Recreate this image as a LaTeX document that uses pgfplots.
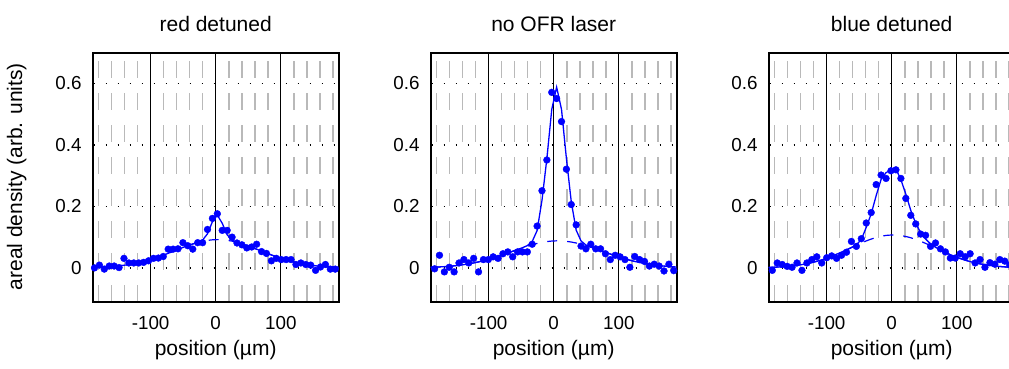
\documentclass[border=0pt]{standalone}
\usepackage{fontspec}
\setmainfont{Liberation Sans}
\usepackage{pgfplots}
\pgfplotsset{compat=1.18}
\definecolor{pblue}{RGB}{0,0,255}
\definecolor{gridgray}{RGB}{185,185,185}
\pgfplotsset{
 panel/.style={
  scale only axis, width=246bp, height=249bp,
  anchor=south west,
  xmin=-189, xmax=189, ymin=-0.11, ymax=0.7,
  xtick={-100,0,100}, xticklabels={-100,0,100},
  ytick={0,0.2,0.4,0.6}, yticklabels={0,0.2,0.4,0.6},
  minor xtick={-180,-160,-140,-120,-80,-60,-40,-20,20,40,60,80,120,140,160,180},
  xmajorgrids, xminorgrids, ymajorgrids,
  major x grid style={black, line width=1.3bp},
  minor x grid style={gridgray, line width=1.6bp, dash pattern=on 16.7bp off 15.3bp},
  major y grid style={black, line width=1.3bp, dash pattern=on 1.3bp off 10.7bp, dash phase=11bp},
  major tick length=0pt, minor tick length=0pt,
  axis line style={black, line width=1.6bp},
  tick label style={font=\fontsize{18.8bp}{22bp}\selectfont, inner sep=0pt},
  xticklabel style={anchor=north, yshift=-14.3bp},
  yticklabel style={anchor=east, xshift=-11bp},
  xlabel={position (µm)},
  xlabel style={font=\fontsize{21bp}{25bp}\selectfont, inner sep=0pt, at={(axis description cs:0.5,-0.194)}, anchor=center},
  ylabel style={font=\fontsize{21bp}{25bp}\selectfont, inner sep=0pt, at={(axis description cs:-0.309,0.502)}, anchor=center},
  title style={font=\fontsize{21bp}{25bp}\selectfont, inner sep=0pt, at={(axis description cs:0.5,1)}, anchor=base, yshift=15bp},
 },
 fitb/.style={pblue, line width=1.2bp, dash pattern=on 10bp off 10bp},
 fits/.style={pblue, line width=1.3bp},
 pts/.style={only marks, mark=*, mark size=3.4bp, mark options={fill=pblue, draw=pblue, solid}},
}
\begin{document}
\begin{tikzpicture}
\useasboundingbox (0,0) rectangle (1009bp,369bp);
\clip (0,0) rectangle (1009bp,369bp);
% ---------------- panel 1 ----------------
\begin{axis}[panel, at={(92.7bp,67.3bp)}, title={red detuned}, ylabel={areal density (arb. units)}]
\addplot[fitb] coordinates {(-189,0.0013) (-186.25,0.0015) (-178.7,0.0021) (-171.15,0.0028) (-163.6,0.0038) (-156.05,0.0050) (-148.5,0.0066) (-140.95,0.0085) (-133.4,0.0109) (-125.85,0.0137) (-118.3,0.0170) (-110.75,0.0208) (-103.2,0.0252) (-95.65,0.0301) (-88.1,0.0355) (-80.55,0.0413) (-73.0,0.0474) (-65.45,0.0537) (-57.9,0.0601) (-50.35,0.0664) (-42.8,0.0723) (-35.25,0.0778) (-27.7,0.0826) (-20.15,0.0865) (-12.6,0.0895) (-5.05,0.0913) (2.5,0.0920) (10.05,0.0915) (17.6,0.0898) (25.15,0.0870) (32.7,0.0831) (40.25,0.0784) (47.8,0.0731) (55.35,0.0672) (62.9,0.0609) (70.45,0.0546) (78.0,0.0482) (85.55,0.0421) (93.1,0.0362) (100.65,0.0308) (108.2,0.0258) (115.75,0.0214) (123.3,0.0175) (130.85,0.0141) (138.4,0.0112) (145.95,0.0088) (153.5,0.0068) (161.05,0.0052) (168.6,0.0039) (176.15,0.0029) (183.7,0.0022) (189,0.0016)};
\addplot[fits] coordinates {(-189,0.0013) (-186.25,0.0015) (-178.7,0.0021) (-171.15,0.0028) (-163.6,0.0038) (-156.05,0.0050) (-148.5,0.0066) (-140.95,0.0085) (-133.4,0.0109) (-125.85,0.0137) (-118.3,0.0170) (-110.75,0.0208) (-103.2,0.0252) (-95.65,0.0301) (-88.1,0.0355) (-80.55,0.0413) (-73.0,0.0474) (-65.45,0.0537) (-57.9,0.0601) (-50.35,0.0664) (-42.8,0.0723) (-35.25,0.0778) (-27.7,0.0829) (-20.15,0.0904) (-12.6,0.1110) (-5.05,0.1502) (2.5,0.1719) (10.05,0.1451) (17.6,0.1076) (25.15,0.0899) (32.7,0.0833) (40.25,0.0784) (47.8,0.0731) (55.35,0.0672) (62.9,0.0609) (70.45,0.0546) (78.0,0.0482) (85.55,0.0421) (93.1,0.0362) (100.65,0.0308) (108.2,0.0258) (115.75,0.0214) (123.3,0.0175) (130.85,0.0141) (138.4,0.0112) (145.95,0.0088) (153.5,0.0068) (161.05,0.0052) (168.6,0.0039) (176.15,0.0029) (183.7,0.0022) (189,0.0016)};
\addplot[pts] coordinates {(-186.25,0.000) (-178.7,0.009) (-171.15,-0.004) (-163.6,0.006) (-156.05,0.006) (-148.5,0.001) (-140.95,0.031) (-133.4,0.016) (-125.85,0.016) (-118.3,0.016) (-110.75,0.018) (-103.2,0.023) (-95.65,0.031) (-88.1,0.032) (-80.55,0.037) (-73.0,0.061) (-65.45,0.061) (-57.9,0.062) (-50.35,0.082) (-42.8,0.072) (-35.25,0.061) (-27.7,0.082) (-20.15,0.082) (-12.6,0.125) (-5.05,0.161) (2.5,0.176) (10.05,0.122) (17.6,0.122) (25.15,0.100) (32.7,0.081) (40.25,0.075) (47.8,0.065) (55.35,0.068) (62.9,0.077) (70.45,0.053) (78.0,0.047) (85.55,0.023) (93.1,0.031) (100.65,0.027) (108.2,0.027) (115.75,0.027) (123.3,0.011) (130.85,0.016) (138.4,0.011) (145.95,0.009) (153.5,-0.008) (161.05,0.003) (168.6,0.011) (176.15,-0.004) (183.7,-0.004)};
\end{axis}
% ---------------- panel 2 ----------------
\begin{axis}[panel, at={(430.7bp,67.3bp)}, title={no OFR laser}]
\addplot[fitb] coordinates {(-189,0.0018) (-183,0.0023) (-175.5,0.0031) (-168,0.0040) (-160.5,0.0052) (-153,0.0067) (-145.5,0.0085) (-138,0.0106) (-130.5,0.0131) (-123,0.0161) (-115.5,0.0195) (-108,0.0234) (-100.5,0.0277) (-93,0.0324) (-85.5,0.0375) (-78,0.0428) (-70.5,0.0484) (-63,0.0541) (-55.5,0.0598) (-48,0.0653) (-40.5,0.0706) (-33,0.0753) (-25.5,0.0795) (-18,0.0830) (-10.5,0.0856) (-3,0.0873) (4.5,0.0880) (12,0.0877) (19.5,0.0864) (27,0.0841) (34.5,0.0810) (42,0.0771) (49.5,0.0725) (57,0.0675) (64.5,0.0621) (72,0.0564) (79.5,0.0507) (87,0.0451) (94.5,0.0396) (102,0.0344) (109.5,0.0295) (117,0.0250) (124.5,0.0210) (132,0.0174) (139.5,0.0143) (147,0.0116) (154.5,0.0093) (162,0.0073) (169.5,0.0058) (177,0.0045) (184.5,0.0034) (189,0.0029)};
\addplot[fits] coordinates {(-189,0.0018) (-183,0.0023) (-175.5,0.0031) (-168,0.0040) (-160.5,0.0052) (-153,0.0067) (-145.5,0.0085) (-138,0.0106) (-130.5,0.0131) (-123,0.0161) (-115.5,0.0195) (-108,0.0234) (-100.5,0.0277) (-93,0.0324) (-85.5,0.0375) (-78,0.0428) (-70.5,0.0484) (-63,0.0541) (-55.5,0.0598) (-48,0.0656) (-40.5,0.0725) (-33,0.0859) (-25.5,0.1215) (-18,0.2200) (-10.5,0.3556) (-3,0.5153) (4.5,0.5880) (12,0.5157) (19.5,0.3564) (27,0.2150) (34.5,0.1230) (42,0.0877) (49.5,0.0744) (57,0.0678) (64.5,0.0621) (72,0.0564) (79.5,0.0507) (87,0.0451) (94.5,0.0396) (102,0.0344) (109.5,0.0295) (117,0.0250) (124.5,0.0210) (132,0.0174) (139.5,0.0143) (147,0.0116) (154.5,0.0093) (162,0.0073) (169.5,0.0058) (177,0.0045) (184.5,0.0034) (189,0.0029)};
\addplot[pts] coordinates {(-183,-0.003) (-175.5,0.041) (-168,-0.013) (-160.5,0.002) (-153,-0.013) (-145.5,0.016) (-138,0.027) (-130.5,0.016) (-123,0.031) (-115.5,-0.013) (-108,0.027) (-100.5,0.027) (-93,0.036) (-85.5,0.031) (-78,0.046) (-70.5,0.052) (-63,0.036) (-55.5,0.052) (-48,0.052) (-40.5,0.052) (-33,0.077) (-25.5,0.136) (-18,0.251) (-10.5,0.351) (-3,0.571) (4.5,0.551) (12,0.476) (19.5,0.321) (27,0.206) (34.5,0.140) (42,0.071) (49.5,0.062) (57,0.077) (64.5,0.062) (72,0.062) (79.5,0.046) (87,0.027) (94.5,0.041) (102,0.036) (109.5,0.027) (117,0.002) (124.5,0.037) (132,0.027) (139.5,0.021) (147,0.006) (154.5,0.012) (162,0.006) (169.5,-0.010) (177,0.012) (184.5,-0.009)};
\end{axis}
% ---------------- panel 3 ----------------
\begin{axis}[panel, at={(768.7bp,67.3bp)}, title={blue detuned}]
\addplot[fitb] coordinates {(-189,0.0015) (-183.5,0.0019) (-175.9,0.0026) (-168.3,0.0035) (-160.7,0.0047) (-153.1,0.0063) (-145.5,0.0083) (-137.9,0.0107) (-130.3,0.0137) (-122.7,0.0172) (-115.1,0.0213) (-107.5,0.0261) (-99.9,0.0315) (-92.3,0.0376) (-84.7,0.0442) (-77.1,0.0513) (-69.5,0.0586) (-61.9,0.0662) (-54.3,0.0737) (-46.7,0.0809) (-39.1,0.0877) (-31.5,0.0938) (-23.9,0.0989) (-16.3,0.1029) (-8.7,0.1056) (-1.1,0.1069) (6.5,0.1067) (14.1,0.1052) (21.7,0.1022) (29.3,0.0980) (36.9,0.0927) (44.5,0.0865) (52.1,0.0796) (59.7,0.0723) (67.3,0.0648) (74.9,0.0573) (82.5,0.0499) (90.1,0.0429) (97.7,0.0364) (105.3,0.0305) (112.9,0.0252) (120.5,0.0205) (128.1,0.0165) (135.7,0.0131) (143.3,0.0102) (150.9,0.0079) (158.5,0.0060) (166.1,0.0045) (173.7,0.0033) (181.3,0.0024) (189,0.0017)};
\addplot[fits] coordinates {(-189,0.0015) (-183.5,0.0019) (-175.9,0.0026) (-168.3,0.0035) (-160.7,0.0047) (-153.1,0.0063) (-145.5,0.0083) (-137.9,0.0107) (-130.3,0.0137) (-122.7,0.0172) (-115.1,0.0213) (-107.5,0.0261) (-99.9,0.0315) (-92.3,0.0376) (-84.7,0.0442) (-77.1,0.0513) (-69.5,0.0586) (-61.9,0.0662) (-54.3,0.0750) (-46.7,0.0920) (-39.1,0.1320) (-31.5,0.1760) (-23.9,0.2350) (-16.3,0.2880) (-8.7,0.3100) (-1.1,0.3180) (6.5,0.3220) (14.1,0.2870) (21.7,0.2400) (29.3,0.1870) (36.9,0.1450) (44.5,0.1140) (52.1,0.0940) (59.7,0.0780) (67.3,0.0670) (74.9,0.0580) (82.5,0.0500) (90.1,0.0430) (97.7,0.0364) (105.3,0.0305) (112.9,0.0252) (120.5,0.0205) (128.1,0.0165) (135.7,0.0131) (143.3,0.0102) (150.9,0.0079) (158.5,0.0060) (166.1,0.0045) (173.7,0.0033) (181.3,0.0024) (189,0.0017)};
\addplot[pts] coordinates {(-183.5,-0.008) (-175.9,0.016) (-168.3,0.011) (-160.7,0.005) (-153.1,0.002) (-145.5,0.016) (-137.9,-0.008) (-130.3,0.016) (-122.7,0.027) (-115.1,0.036) (-107.5,0.016) (-99.9,0.033) (-92.3,0.039) (-84.7,0.031) (-77.1,0.041) (-69.5,0.051) (-61.9,0.086) (-54.3,0.070) (-46.7,0.095) (-39.1,0.146) (-31.5,0.180) (-23.9,0.271) (-16.3,0.302) (-8.7,0.291) (-1.1,0.316) (6.5,0.319) (14.1,0.291) (21.7,0.226) (29.3,0.171) (36.9,0.143) (44.5,0.110) (52.1,0.106) (59.7,0.070) (67.3,0.081) (74.9,0.062) (82.5,0.052) (90.1,0.032) (97.7,0.032) (105.3,0.046) (112.9,0.036) (120.5,0.046) (128.1,0.016) (135.7,0.027) (143.3,0.002) (150.9,0.017) (158.5,0.012) (166.1,0.027) (173.7,0.022) (181.3,0.010)};
\end{axis}
\end{tikzpicture}
\end{document}
